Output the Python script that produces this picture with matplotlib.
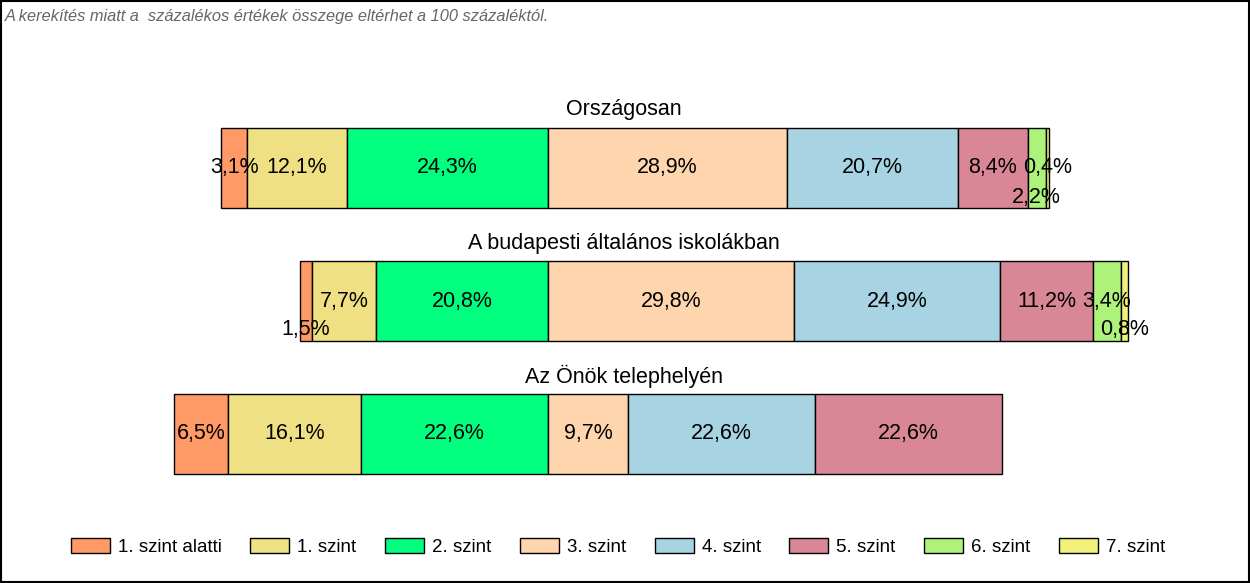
import matplotlib.pyplot as plt
from matplotlib.patches import Rectangle

plt.rcParams['font.family'] = ['Liberation Sans', 'DejaVu Sans']

# data
groups = ['Országosan', 'A budapesti általános iskolákban', 'Az Önök telephelyén']
levels = ['1. szint alatti', '1. szint', '2. szint', '3. szint',
          '4. szint', '5. szint', '6. szint', '7. szint']
colors = ['#FF9966', '#F0E084', '#00FF7F', '#FFD5AD',
          '#A8D3E3', '#D98797', '#ADF27A', '#F0F07A']
orszagos = [3.1, 12.1, 24.3, 28.9, 20.7, 8.4, 2.2, 0.4]
budapest = [1.5, 7.7, 20.8, 29.8, 24.9, 11.2, 3.4, 0.8]
telephely = [6.5, 16.1, 22.6, 9.7, 22.6, 22.6, 0.0, 0.0]
values = [orszagos, budapest, telephely]
# which labels are pushed below the centre line (small segments)
lowered = [[6], [0, 7], []]

fig = plt.figure(figsize=(12.5, 5.83), dpi=100)
ax = fig.add_axes([0, 0, 1, 1])
px = 8.27  # pixels per percent
ax.set_xlim(-548 / px, (1250 - 548) / px)
ax.set_ylim(583, 0)
ax.axis('off')

centers = [168, 301, 434]
for g, vals in enumerate(values):
    left = -sum(vals[:3])
    for i, v in enumerate(vals):
        if v <= 0:
            continue
        ax.barh(centers[g], v, left=left, height=80, color=colors[i],
                edgecolor='black', linewidth=1, zorder=1)
        ty = centers[g] + (29 if i in lowered[g] else 0)
        ax.text(left + v / 2, ty, f'{v:.1f}%'.replace('.', ','),
                ha='center', va='center', fontsize=15.5, color='black', zorder=5)
        left += v
    # group titles centred over the plot area
    ax.text((624 - 548) / px, centers[g] - 58, groups[g],
            ha='center', va='center', fontsize=15.5)

fig.text(0.004, 0.985, 'A kerekítés miatt a  százalékos értékek összege eltérhet a 100 százaléktól.',
         ha='left', va='top', fontsize=11.8, style='italic', color='#666666')

handles = [Rectangle((0, 0), 1, 1, facecolor=c, edgecolor='black', linewidth=1) for c in colors]
fig.legend(handles, levels, loc='center', bbox_to_anchor=(618 / 1250, 0.062), ncol=8,
           frameon=False, fontsize=13.5, handlelength=2.08, handleheight=0.85,
           handletextpad=0.43, columnspacing=1.52)

fig.add_artist(Rectangle((0.0008, 0.0017), 0.9984, 0.9966, transform=fig.transFigure,
                         fill=False, edgecolor='black', linewidth=1.5))

fig.savefig('out.png', dpi=100)
